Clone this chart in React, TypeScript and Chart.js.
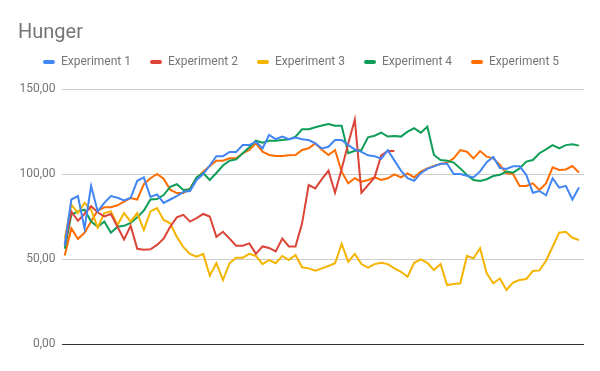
import React, { useEffect, useRef } from "react";
import { Chart, registerables } from "chart.js";

Chart.register(...registerables);

const chartTitle = "Hunger";
const seriesNames = ["Experiment 1", "Experiment 2", "Experiment 3", "Experiment 4", "Experiment 5"];
const seriesColors = ["#4285F4", "#DB4437", "#F4B400", "#0F9D58", "#FF6D00"];
const yTickValues = [0, 50, 100, 150];

const experiment1 = [
  58, 85, 87, 68, 93, 78, 83, 87, 86, 84.5,
  86, 96, 98, 86.5, 88, 83, 85, 87, 89.5, 90,
  96.5, 100, 105, 110.5, 110.5, 113, 113, 117, 117, 119,
  115, 123, 120.5, 122, 120.5, 121.5, 120.5, 120, 118, 115,
  116, 120, 120, 117, 114.5, 113, 111, 110.5, 109, 114,
  108, 102, 97.5, 96, 100.5, 103, 104.5, 106, 106, 100,
  100, 99, 98, 101.5, 107, 110, 103.5, 103, 104.5, 104.5,
  99.5, 89, 90, 87.5, 97.5, 92, 93, 85, 92,
];

const experiment2 = [
  58, 78, 72.5, 76.5, 81, 77.5, 75, 76.5, 69, 61.5,
  69.5, 56, 55.5, 55.7, 58.3, 62, 69, 74.5, 76, 72,
  74, 76.5, 75, 63, 66, 62, 57.8, 57.8, 59.2, 53,
  57.4, 56.5, 54.5, 62, 57.4, 57.4, 71, 93.5, 91.5, 97,
  102, 89, 103, 118, 132, 89, 93.5, 98, 111, 113.5,
  113.5, null, null, null, null, null, null, null, null, null,
  null, null, null, null, null, null, null, null, null, null,
  null, null, null, null, null, null, null, null, null,
];

const experiment3 = [
  62, 82, 77, 83, 79, 68.5, 77, 78, 70, 77,
  72, 77, 67, 78, 80, 73, 71, 63, 57, 53,
  51.4, 53, 40.2, 47.5, 37.6, 47.5, 50.8, 50.8, 53, 51.8,
  47, 49.4, 47.5, 51.8, 49.4, 52.4, 45.1, 44.5, 43.1, 44.5,
  45.9, 47.5, 58.9, 48.4, 53, 47, 44.9, 47, 47.8, 47,
  44.5, 42.5, 39.6, 47.8, 49.8, 47.8, 43.5, 47, 34.7, 35.3,
  35.7, 51.8, 50.4, 56.3, 41.6, 35.7, 38.6, 31.8, 36.1, 37.6,
  38.2, 42.9, 43.3, 49, 57.2, 65.5, 66, 62.5, 61.2,
];

const experiment4 = [
  56, 76, 78, 79, 72, 69, 72, 65.5, 69, 69.5,
  71.2, 74.5, 78.5, 85, 85.3, 87.6, 92.5, 94, 90.6, 91,
  98, 100.6, 96.5, 100.6, 105, 107.8, 108.6, 112.2, 115.7, 119.6,
  118.4, 119.6, 119.6, 120, 120.4, 122, 126.3, 126.3, 127.5, 128.5,
  129.4, 128.4, 128.4, 112.2, 113.7, 114.1, 121.6, 122.5, 124.3, 122,
  122.3, 122, 124.9, 126.9, 124.3, 127.8, 111.2, 108.2, 107.8, 106.7,
  103.3, 99.4, 96.5, 95.9, 96.9, 98.8, 99.5, 101.4, 100.8, 103.3,
  107.3, 108.2, 112.2, 114.5, 117, 115.1, 117, 117.5, 116.7,
];

const experiment5 = [
  52, 68, 61.8, 65.4, 72, 78.5, 80.4, 80.4, 81.6, 83.8,
  85.8, 85, 94, 97.5, 100, 97.2, 90.8, 88.8, 88.8, 91.5,
  97.5, 101.4, 104.7, 107.8, 107.8, 109.2, 109.2, 112.2, 114.1, 118,
  113.1, 111.2, 110.6, 110.6, 111, 111.2, 114.1, 115.1, 118, 114.3,
  111.2, 114.1, 101.4, 94.5, 97.5, 95.5, 96.5, 98, 96.5, 97.5,
  99.8, 98, 100.4, 98, 101.4, 103.3, 104.7, 105.9, 106.7, 109.2,
  114.1, 113.1, 109.2, 113.5, 110.2, 109.2, 105.3, 100.4, 100, 93,
  93, 94.5, 90.6, 94.5, 103.9, 102.4, 102.7, 104.7, 100.8,
];

const allSeries = [experiment1, experiment2, experiment3, experiment4, experiment5];

const formatTick = (v: number) => v.toFixed(2).replace(".", ",");

export default function App() {
  const canvasRef = useRef<HTMLCanvasElement | null>(null);

  useEffect(() => {
    document.body.style.margin = "0";
    const canvas = canvasRef.current;
    if (!canvas) return;

    Chart.defaults.font.family = "Roboto";

    const legendGap = {
      id: "legendGap",
      beforeInit(chart: any) {
        const lg = chart.legend;
        if (!lg) return;
        const origFit = lg.fit;
        lg.fit = function () {
          origFit.call(this);
          this.height += 11;
        };
      },
    };

    const chart = new Chart(canvas, {
      type: "line",
      data: {
        datasets: allSeries.map((arr, k) => ({
          label: seriesNames[k],
          data: arr.map((v, i) => ({ x: i, y: v })),
          borderColor: seriesColors[k],
          backgroundColor: seriesColors[k],
          borderWidth: 2,
          pointRadius: 0,
          pointHoverRadius: 0,
          tension: 0,
          spanGaps: false,
        })),
      },
      options: {
        responsive: false,
        animation: false,
        events: [],
        layout: { padding: { left: 18, right: 16, top: 0, bottom: 27 } },
        plugins: {
          title: {
            display: true,
            text: chartTitle,
            align: "start",
            color: "#757575",
            font: { family: "Roboto", size: 20, weight: "normal" },
            padding: { top: 21, bottom: -8 },
          },
          legend: {
            display: true,
            position: "top",
            align: "center",
            labels: {
              boxWidth: 12,
              boxHeight: 4,
              padding: 19,
              color: "#757575",
              font: { family: "Roboto", size: 12 },
              useBorderRadius: true,
              borderRadius: 2,
              generateLabels: (c: any) =>
                (Chart.defaults.plugins.legend.labels as any)
                  .generateLabels(c)
                  .map((l: any) => ({ ...l, lineWidth: 0 })),
            },
          },
          tooltip: { enabled: false },
        },
        scales: {
          x: {
            type: "linear",
            min: -0.49,
            max: 78.76,
            display: false,
          },
          y: {
            min: 0,
            max: 150,
            afterFit: (scale: any) => {
              scale.width = 43.5;
            },
            afterBuildTicks: (scale: any) => {
              scale.ticks = yTickValues.map((v) => ({ value: v }));
            },
            ticks: {
              padding: 6,
              color: "#757575",
              font: { family: "Roboto", size: 12 },
              callback: (v: any) => formatTick(Number(v)),
            },
            grid: {
              color: (ctx: any) => (ctx.tick && ctx.tick.value === 0 ? "#333333" : "#cccccc"),
              lineWidth: 1,
              drawTicks: false,
            },
            border: { display: false },
          },
        },
      } as any,
      plugins: [legendGap],
    });

    return () => chart.destroy();
  }, []);

  return (
    <div style={{ position: "fixed", left: 0, top: 0, width: 600, height: 371, background: "#fff" }}>
      <canvas ref={canvasRef} width={600} height={371} style={{ display: "block", width: 600, height: 371 }} />
    </div>
  );
}
